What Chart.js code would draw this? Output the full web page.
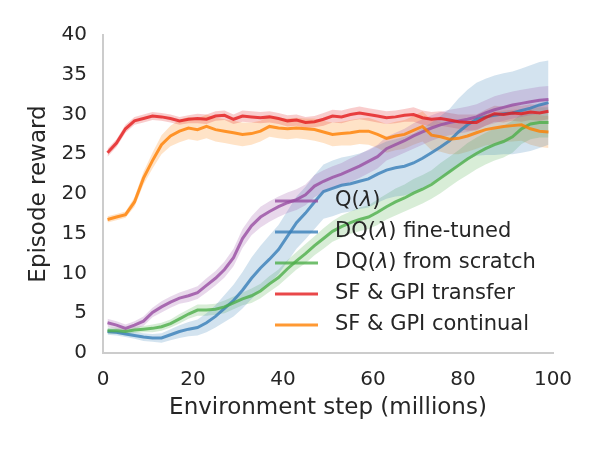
<!DOCTYPE html>
<html>
<head>
<meta charset="utf-8">
<script src="https://cdn.jsdelivr.net/npm/chart.js@4"></script>
<style>
  body { margin: 0; background: #fff; }
  #chart { display: block; }
</style>
</head>
<body>
<canvas id="chart" width="600" height="450"></canvas>
<script>
// environment steps (millions)
const steps = [1,3,5,7,9,11,13,15,17,19,21,23,25,27,29,31,33,35,37,39,41,43,45,47,49,
               51,53,55,57,59,61,63,65,67,69,71,73,75,77,79,81,83,85,87,89,91,93,95,97,99];

const qLambda = [3.8,3.5,3.1,3.5,4.0,5.1,5.8,6.4,6.9,7.2,7.6,8.5,9.4,10.5,12.0,14.4,16.0,17.1,17.8,18.4,18.9,19.3,19.9,21.0,21.6,
                 22.1,22.5,23.0,23.5,24.1,24.7,25.7,26.2,26.7,27.3,27.8,28.3,28.7,29.0,29.2,29.4,29.7,30.2,30.6,30.9,31.2,31.4,31.6,31.8,31.9];
const dqFineTuned = [2.7,2.6,2.4,2.2,2.0,1.9,1.9,2.3,2.7,3.0,3.2,3.8,4.6,5.6,6.6,7.9,9.4,10.7,11.8,13.0,14.7,16.4,17.6,19.0,20.3,
                     20.7,21.1,21.3,21.6,21.9,22.5,23.0,23.3,23.5,23.9,24.5,25.2,25.9,26.7,27.8,28.7,29.4,29.7,29.9,30.1,30.2,30.5,30.8,31.2,31.5];
const dqScratch = [2.8,2.8,2.7,2.9,3.0,3.1,3.3,3.7,4.3,4.9,5.4,5.4,5.5,5.8,6.3,6.8,7.2,7.8,8.7,9.5,10.6,11.6,12.5,13.5,14.4,
                   15.3,15.9,16.4,16.8,17.1,17.7,18.4,19.0,19.5,20.1,20.6,21.2,22.0,22.8,23.6,24.4,25.1,25.7,26.2,26.6,27.2,28.2,28.8,29.0,29.0];
const sfTransfer = [25.2,26.4,28.2,29.2,29.5,29.8,29.7,29.5,29.2,29.4,29.5,29.4,29.8,29.9,29.4,29.8,29.7,29.6,29.7,29.5,29.2,29.3,29.0,29.1,29.4,
                    29.8,29.7,30.0,30.2,30.0,29.8,29.6,29.7,29.9,30.0,29.6,29.4,29.5,29.3,29.1,29.0,29.0,29.6,30.1,30.0,30.2,30.1,30.3,30.2,30.4];
const sfContinual = [16.8,17.1,17.4,19.0,22.0,24.2,26.2,27.3,27.9,28.3,28.1,28.5,28.1,27.9,27.7,27.5,27.6,27.9,28.5,28.3,28.2,28.3,28.2,28.1,27.8,
                     27.5,27.6,27.7,27.9,27.9,27.5,27.0,27.3,27.5,28.0,28.5,27.4,27.2,26.9,27.0,27.3,27.7,28.1,28.3,28.5,28.6,28.7,28.2,27.9,27.8];

// half-width of the shaded bands
const qLambdaSpread = [0.5,0.5,0.5,0.5,0.6,0.6,0.7,0.7,0.7,0.8,0.8,0.9,0.9,1.0,1.1,1.2,1.2,1.3,1.3,1.3,1.3,1.3,1.3,1.4,1.4,
                       1.4,1.4,1.5,1.5,1.5,1.5,1.5,1.5,1.5,1.6,1.6,1.6,1.6,1.6,1.6,1.6,1.6,1.6,1.7,1.7,1.7,1.7,1.7,1.7,1.7];
const dqFineTunedSpread = [0.4,0.4,0.4,0.4,0.5,0.5,0.6,0.7,0.8,0.9,1.0,1.2,1.4,1.7,2.0,2.3,2.6,2.8,3.0,3.1,3.2,3.3,3.3,3.4,3.4,
                           3.5,3.5,3.5,3.5,3.6,3.6,3.6,3.6,3.7,3.7,3.8,3.8,3.9,4.0,4.2,4.4,4.6,4.8,5.0,5.1,5.2,5.3,5.4,5.4,5.3];
const dqScratchSpread = [0.4,0.4,0.4,0.4,0.4,0.5,0.5,0.5,0.6,0.6,0.7,0.7,0.7,0.8,0.8,0.8,0.9,0.9,1.0,1.0,1.1,1.1,1.2,1.2,1.3,
                         1.3,1.4,1.4,1.5,1.5,1.6,1.6,1.7,1.7,1.8,1.8,1.8,1.9,1.9,1.9,2.0,2.0,2.0,2.0,2.0,2.0,1.9,1.9,1.9,1.9];
const sfTransferSpread = [0.5,0.5,0.5,0.5,0.5,0.5,0.5,0.5,0.5,0.5,0.6,0.6,0.6,0.6,0.6,0.7,0.7,0.7,0.7,0.7,0.7,0.7,0.7,0.7,0.8,
                          0.8,0.8,0.8,0.8,0.8,0.8,0.8,0.8,0.8,0.9,0.9,0.9,0.9,0.9,0.9,1.0,1.0,1.0,1.0,1.0,1.0,1.0,1.0,1.0,1.0];
const sfContinualSpread = [0.4,0.4,0.4,0.6,0.8,1.0,1.2,1.3,1.4,1.4,1.4,1.5,1.5,1.5,1.5,1.5,1.4,1.3,1.3,1.3,1.3,1.3,1.3,1.4,1.4,
                           1.5,1.5,1.6,1.6,1.7,1.7,1.8,1.8,1.8,1.8,1.9,1.9,1.9,1.9,2.0,2.0,2.0,2.0,2.0,2.0,2.0,2.0,2.0,2.0,2.0];

const xTicks = [0, 20, 40, 60, 80, 100];
const yTicks = [0, 5, 10, 15, 20, 25, 30, 35, 40];

const series = [
    { label: ['Q(', 'λ', ')'], values: qLambda, spread: qLambdaSpread, rgb: '152, 78, 163' },
    { label: ['DQ(', 'λ', ') fine-tuned'], values: dqFineTuned, spread: dqFineTunedSpread, rgb: '55, 126, 184' },
    { label: ['DQ(', 'λ', ') from scratch'], values: dqScratch, spread: dqScratchSpread, rgb: '77, 175, 74' },
    { label: ['SF & GPI transfer'], values: sfTransfer, spread: sfTransferSpread, rgb: '228, 26, 28' },
    { label: ['SF & GPI continual'], values: sfContinual, spread: sfContinualSpread, rgb: '255, 127, 0' }
];

const textColor = '#262626';
const fontFamily = '"DejaVu Sans", sans-serif';

// build datasets: lower bound, upper bound (filled to lower), mean line
const datasets = [];
series.forEach(function(s, i) {
    const lowerIndex = datasets.length;
    datasets.push({
        data: steps.map((x, k) => ({ x: x, y: s.values[k] - s.spread[k] })),
        borderWidth: 0,
        pointRadius: 0,
        fill: false,
        order: 20 + i
    });
    datasets.push({
        data: steps.map((x, k) => ({ x: x, y: s.values[k] + s.spread[k] })),
        borderWidth: 0,
        pointRadius: 0,
        backgroundColor: `rgba(${s.rgb}, 0.22)`,
        fill: { target: lowerIndex },
        order: 20 + i
    });
    datasets.push({
        data: steps.map((x, k) => ({ x: x, y: s.values[k] })),
        borderColor: `rgba(${s.rgb}, 0.8)`,
        borderWidth: 3,
        pointRadius: 0,
        tension: 0,
        fill: false,
        order: 10 - i
    });
});

// legend drawn inside the plot area, over the data
const insideLegend = {
    id: 'insideLegend',
    afterDatasetsDraw(chart) {
        const ctx = chart.ctx;
        const x0 = 275, x1 = 318, tx = 335;
        const y0 = 201, dy = 31;
        ctx.save();
        series.forEach(function(s, i) {
            const y = y0 + i * dy;
            ctx.strokeStyle = `rgba(${s.rgb}, 0.8)`;
            ctx.lineWidth = 3;
            ctx.beginPath();
            ctx.moveTo(x0, y);
            ctx.lineTo(x1, y);
            ctx.stroke();
            ctx.fillStyle = textColor;
            ctx.textBaseline = 'middle';
            ctx.textAlign = 'left';
            let x = tx;
            s.label.forEach(function(part) {
                ctx.font = (part === 'λ' ? 'italic ' : '') + '21px ' + fontFamily;
                ctx.fillText(part, x, y);
                x += ctx.measureText(part).width;
            });
        });
        ctx.restore();
    }
};

const ctx = document.getElementById('chart').getContext('2d');
const chart = new Chart(ctx, {
    type: 'line',
    data: { datasets: datasets },
    plugins: [insideLegend],
    options: {
        responsive: false,
        animation: false,
        layout: { padding: { top: 35, right: 47, bottom: 0, left: 0 } },
        plugins: {
            legend: { display: false },
            tooltip: { enabled: false }
        },
        scales: {
            x: {
                type: 'linear',
                min: 0,
                max: 100,
                afterFit: function(scale) { scale.height = 97; },
                afterBuildTicks: function(scale) { scale.ticks = xTicks.map(v => ({ value: v })); },
                grid: { display: false, drawTicks: false },
                border: { display: true, color: '#cccccc', width: 2 },
                ticks: {
                    padding: 15,
                    color: textColor,
                    font: { family: fontFamily, size: 20 }
                },
                title: {
                    display: true,
                    text: 'Environment step (millions)',
                    color: textColor,
                    font: { family: fontFamily, size: 23 },
                    padding: { bottom: 28 }
                }
            },
            y: {
                min: 0,
                max: 40,
                afterFit: function(scale) { scale.width = 103; },
                afterBuildTicks: function(scale) { scale.ticks = yTicks.map(v => ({ value: v })); },
                grid: { display: false, drawTicks: false },
                border: { display: true, color: '#cccccc', width: 2 },
                ticks: {
                    padding: 16,
                    color: textColor,
                    font: { family: fontFamily, size: 20 }
                },
                title: {
                    display: true,
                    text: 'Episode reward',
                    color: textColor,
                    font: { family: fontFamily, size: 23 },
                    padding: { top: 25 }
                }
            }
        }
    }
});
</script>
</body>
</html>
